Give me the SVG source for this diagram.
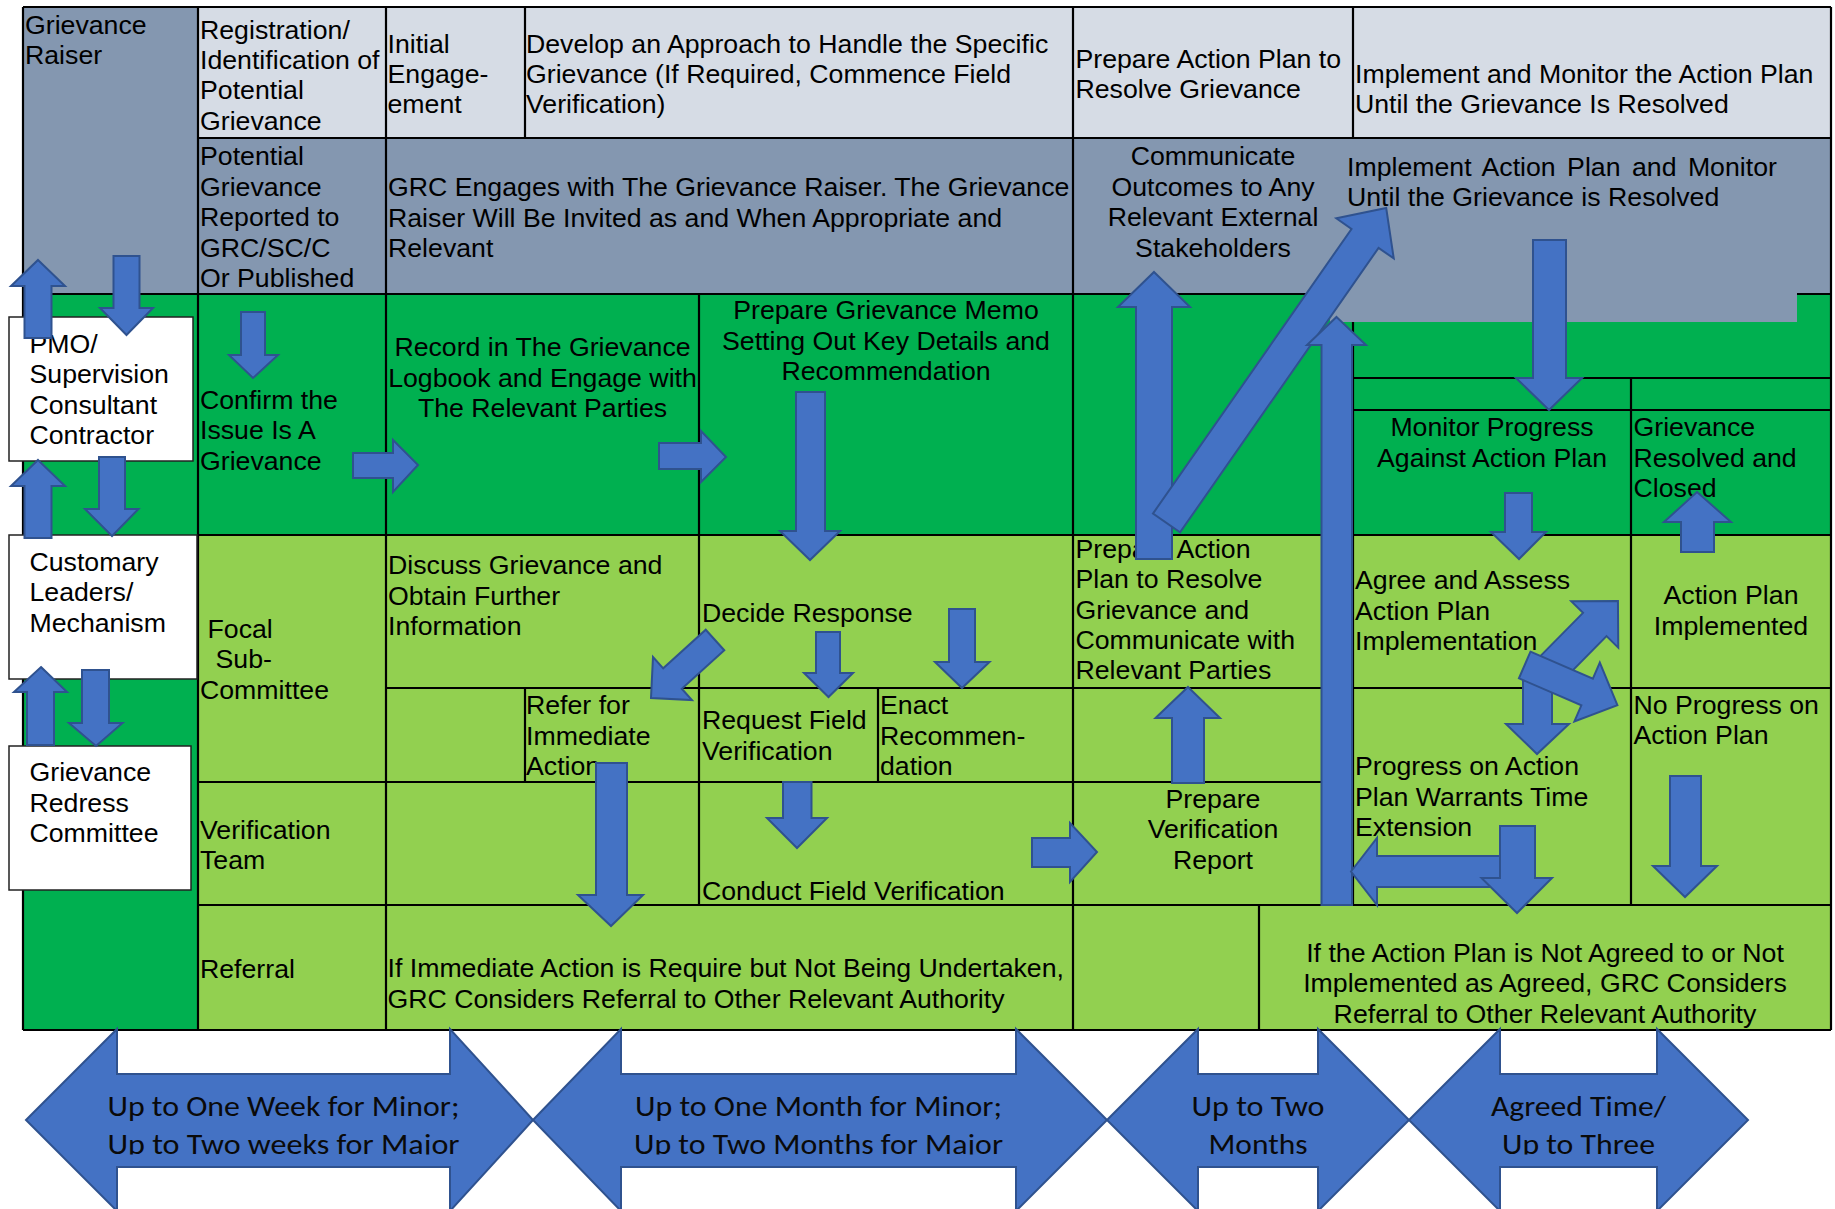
<svg xmlns="http://www.w3.org/2000/svg" width="1835" height="1209" viewBox="0 0 1835 1209">
<style>
  text { font-family: "Liberation Sans", Arial, sans-serif; font-size: 26.7px; fill: #000; transform: translate(0px, 1.2px); }
  .m { text-anchor: middle; }
  .hd { fill: #D6DCE5; }
  .gr { fill: #8497B0; }
  .dg { fill: #00B050; }
  .lg { fill: #92D050; }
  .bx { fill: #fff; stroke: #222; stroke-width: 1.5; }
  .grid { fill: none; stroke: #000; stroke-width: 2.2; }
  .ar { fill: #4472C4; stroke: #2F528F; stroke-width: 2; }
  .tl { font-family: Carlito, Lato, "Liberation Sans", sans-serif; font-size: 28px; text-anchor: middle; fill: #0a0a0a; }
</style>
<defs>
  <clipPath id="cut"><rect x="0" y="0" width="1835" height="1154.5"/></clipPath>
</defs>
<rect width="1835" height="1209" fill="#fff"/>

<!-- left lane -->
<g id="raiser"><rect class="gr" x="23" y="7" width="175" height="287"/>
  <text><tspan x="25" y="33">Grievance</tspan><tspan x="25" y="63">Raiser</tspan></text></g>
<g id="lane"><rect class="dg" x="23" y="294" width="175" height="736"/></g>

<!-- header row -->
<g id="h-registration"><rect class="hd" x="198" y="7" width="188" height="131"/>
  <text><tspan x="200" y="37.5">Registration/</tspan><tspan x="200" y="67.8">Identification of</tspan><tspan x="200" y="98.1">Potential</tspan><tspan x="200" y="128.4">Grievance</tspan></text></g>
<g id="h-initial"><rect class="hd" x="386" y="7" width="139" height="131"/>
  <text><tspan x="387.5" y="51.7">Initial</tspan><tspan x="387.5" y="82">Engage-</tspan><tspan x="387.5" y="112.3">ement</tspan></text></g>
<g id="h-develop"><rect class="hd" x="525" y="7" width="548" height="131"/>
  <text><tspan x="526" y="51.7">Develop an Approach to Handle the Specific</tspan><tspan x="526" y="82">Grievance (If Required, Commence Field</tspan><tspan x="526" y="112.3">Verification)</tspan></text></g>
<g id="h-prepare"><rect class="hd" x="1073" y="7" width="280" height="131"/>
  <text><tspan x="1075.5" y="66.7">Prepare Action Plan to</tspan><tspan x="1075.5" y="97">Resolve Grievance</tspan></text></g>
<g id="h-implement"><rect class="hd" x="1353" y="7" width="478" height="131"/>
  <text><tspan x="1355" y="81.7">Implement and Monitor the Action Plan</tspan><tspan x="1355" y="112">Until the Grievance Is Resolved</tspan></text></g>

<!-- raiser row -->
<g id="g-potential"><rect class="gr" x="198" y="138" width="188" height="156"/>
  <text><tspan x="200" y="164.3">Potential</tspan><tspan x="200" y="194.7">Grievance</tspan><tspan x="200" y="225.1">Reported to</tspan><tspan x="200" y="255.5">GRC/SC/C</tspan><tspan x="200" y="285.9">Or Published</tspan></text></g>
<g id="g-engage"><rect class="gr" x="386" y="138" width="687" height="156"/>
  <text><tspan x="388" y="195">GRC Engages with The Grievance Raiser. The Grievance</tspan><tspan x="388" y="225.4">Raiser Will Be Invited as and When Appropriate and</tspan><tspan x="388" y="255.8">Relevant</tspan></text></g>
<g id="g-communicate"><rect class="gr" x="1073" y="138" width="280" height="156"/>
  <text class="m"><tspan x="1213" y="164.3">Communicate</tspan><tspan x="1213" y="194.7">Outcomes to Any</tspan><tspan x="1213" y="225.1">Relevant External</tspan><tspan x="1213" y="255.5">Stakeholders</tspan></text></g>
<g id="g-implement"><rect class="gr" x="1353" y="138" width="478" height="156"/>
  <text><tspan x="1347" y="175" word-spacing="4">Implement Action Plan and Monitor</tspan><tspan x="1347" y="205">Until the Grievance is Resolved</tspan></text></g>

<!-- PMO / consultant / contractor row -->
<g id="d-confirm"><rect class="dg" x="198" y="294" width="188" height="241"/>
  <text><tspan x="200" y="407.7">Confirm the</tspan><tspan x="200" y="438.1">Issue Is A</tspan><tspan x="200" y="468.5">Grievance</tspan></text></g>
<g id="d-record"><rect class="dg" x="386" y="294" width="313" height="241"/>
  <text class="m"><tspan x="542.5" y="355">Record in The Grievance</tspan><tspan x="542.5" y="385.4">Logbook and Engage with</tspan><tspan x="542.5" y="415.8">The Relevant Parties</tspan></text></g>
<g id="d-memo"><rect class="dg" x="699" y="294" width="374" height="241"/>
  <text class="m"><tspan x="886" y="318.3">Prepare Grievance Memo</tspan><tspan x="886" y="348.7">Setting Out Key Details and</tspan><tspan x="886" y="379.1">Recommendation</tspan></text></g>
<g id="d-plan"><rect class="dg" x="1073" y="294" width="280" height="241"/></g>
<g id="d-upper"><rect class="dg" x="1353" y="294" width="478" height="116"/></g>
<g id="d-monitor"><rect class="dg" x="1353" y="410" width="278" height="125"/>
  <text class="m"><tspan x="1492" y="435">Monitor Progress</tspan><tspan x="1492" y="465.4">Against Action Plan</tspan></text></g>
<g id="d-resolved"><rect class="dg" x="1631" y="410" width="200" height="125"/>
  <text><tspan x="1633.5" y="435">Grievance</tspan><tspan x="1633.5" y="465.4">Resolved and</tspan><tspan x="1633.5" y="495.8">Closed</tspan></text></g>
<rect id="raiser-band" class="gr" x="1330" y="292.5" width="467" height="29.5"/>

<!-- focal sub-committee rows -->
<g id="l-focal"><rect class="lg" x="198" y="535" width="188" height="247"/>
  <text><tspan x="207.5" y="636.7">Focal</tspan><tspan x="215.5" y="667">Sub-</tspan><tspan x="200" y="697.4">Committee</tspan></text></g>
<g id="l-discuss"><rect class="lg" x="386" y="535" width="313" height="153"/>
  <text><tspan x="388" y="573.3">Discuss Grievance and</tspan><tspan x="388" y="603.7">Obtain Further</tspan><tspan x="388" y="634.1">Information</tspan></text></g>
<g id="l-decide"><rect class="lg" x="699" y="535" width="374" height="153"/>
  <text x="702" y="620.7">Decide Response</text></g>
<g id="l-prepare"><rect class="lg" x="1073" y="535" width="280" height="153"/>
  <text><tspan x="1075.5" y="556.7">Prepare Action</tspan><tspan x="1075.5" y="587.1">Plan to Resolve</tspan><tspan x="1075.5" y="617.5">Grievance and</tspan><tspan x="1075.5" y="647.9">Communicate with</tspan><tspan x="1075.5" y="678.3">Relevant Parties</tspan></text></g>
<g id="l-agree"><rect class="lg" x="1353" y="535" width="278" height="153"/>
  <text><tspan x="1355" y="588.3">Agree and Assess</tspan><tspan x="1355" y="618.7">Action Plan</tspan><tspan x="1355" y="649.1">Implementation</tspan></text></g>
<g id="l-implemented"><rect class="lg" x="1631" y="535" width="200" height="153"/>
  <text class="m"><tspan x="1731" y="603.3">Action Plan</tspan><tspan x="1731" y="633.7">Implemented</tspan></text></g>
<g id="l-blank1"><rect class="lg" x="386" y="688" width="139" height="94"/></g>
<g id="l-refer"><rect class="lg" x="525" y="688" width="174" height="94"/>
  <text><tspan x="526" y="713.3">Refer for</tspan><tspan x="526" y="743.7">Immediate</tspan><tspan x="526" y="774.1">Action</tspan></text></g>
<g id="l-request"><rect class="lg" x="699" y="688" width="179" height="94"/>
  <text><tspan x="702" y="728.3">Request Field</tspan><tspan x="702" y="758.7">Verification</tspan></text></g>
<g id="l-enact"><rect class="lg" x="878" y="688" width="195" height="94"/>
  <text><tspan x="880" y="713.3">Enact</tspan><tspan x="880" y="743.7">Recommen-</tspan><tspan x="880" y="774.1">dation</tspan></text></g>
<g id="l-blank2"><rect class="lg" x="1073" y="688" width="280" height="94"/></g>
<g id="l-progress"><rect class="lg" x="1353" y="688" width="278" height="217"/>
  <text><tspan x="1355" y="774">Progress on Action</tspan><tspan x="1355" y="804.4">Plan Warrants Time</tspan><tspan x="1355" y="834.8">Extension</tspan></text></g>
<g id="l-noprogress"><rect class="lg" x="1631" y="688" width="200" height="217"/>
  <text><tspan x="1633.5" y="712.7">No Progress on</tspan><tspan x="1633.5" y="743.1">Action Plan</tspan></text></g>

<!-- verification team row -->
<g id="v-team"><rect class="lg" x="198" y="782" width="188" height="123"/>
  <text><tspan x="200" y="837.7">Verification</tspan><tspan x="200" y="868.1">Team</tspan></text></g>
<g id="v-blank"><rect class="lg" x="386" y="782" width="313" height="123"/></g>
<g id="v-conduct"><rect class="lg" x="699" y="782" width="374" height="123"/>
  <text x="702" y="899.3">Conduct Field Verification</text></g>
<g id="v-report"><rect class="lg" x="1073" y="782" width="280" height="123"/>
  <text class="m"><tspan x="1213" y="806.7">Prepare</tspan><tspan x="1213" y="837.1">Verification</tspan><tspan x="1213" y="867.5">Report</tspan></text></g>

<!-- referral row -->
<g id="r-referral"><rect class="lg" x="198" y="905" width="188" height="125"/>
  <text x="200" y="976.7">Referral</text></g>
<g id="r-immediate"><rect class="lg" x="386" y="905" width="687" height="125"/>
  <text><tspan x="387.5" y="976">If Immediate Action is Require but Not Being Undertaken,</tspan><tspan x="387.5" y="1006.4">GRC Considers Referral to Other Relevant Authority</tspan></text></g>
<g id="r-blank"><rect class="lg" x="1073" y="905" width="186" height="125"/></g>
<g id="r-notagreed"><rect class="lg" x="1259" y="905" width="572" height="125"/>
  <text class="m"><tspan x="1545" y="960.7">If the Action Plan is Not Agreed to or Not</tspan><tspan x="1545" y="991.1">Implemented as Agreed, GRC Considers</tspan><tspan x="1545" y="1021.5">Referral to Other Relevant Authority</tspan></text></g>

<!-- table rules -->
<path class="grid" d="M23 7H1831M198 138H1831M23 294H1330M1797 294H1831M198 535H1831M386 688H1831M198 782H1353M198 905H1831M1353 378H1831M1353 410H1831M23 1030H1831
M23 7V1030M198 7V1030M386 7V1030M525 7V138M525 688V782M699 294V905M878 688V782M1073 7V1030M1259 905V1030M1353 7V138M1353 322V905M1631 378V905M1831 7V1030"/>

<!-- stakeholder boxes -->
<g id="pmo"><rect class="bx" x="9" y="317" width="184" height="144"/>
  <text><tspan x="29.5" y="352">PMO/</tspan><tspan x="29.5" y="382">Supervision</tspan><tspan x="29.5" y="412.5">Consultant</tspan><tspan x="29.5" y="443">Contractor</tspan></text></g>
<g id="customary"><rect class="bx" x="9" y="535" width="188" height="144"/>
  <text><tspan x="29.5" y="570">Customary</tspan><tspan x="29.5" y="600">Leaders/</tspan><tspan x="29.5" y="631">Mechanism</tspan></text></g>
<g id="grc"><rect class="bx" x="9" y="746" width="182" height="144"/>
  <text><tspan x="29.5" y="780">Grievance</tspan><tspan x="29.5" y="810.7">Redress</tspan><tspan x="29.5" y="840.7">Committee</tspan></text></g>

<!-- flow arrows -->
<g id="connectors">
  <polygon class="ar" points="38,260 65,286 51.5,286 51.5,338 24.5,338 24.5,286 11,286"/>
  <polygon class="ar" points="113.5,256 139.5,256 139.5,308 153,308 126.5,335 100,308 113.5,308"/>
  <polygon class="ar" points="38,460 65,486 51.5,486 51.5,538 24.5,538 24.5,486 11,486"/>
  <polygon class="ar" points="99,457 125,457 125,509 138.5,509 112,536 85,509 99,509"/>
  <polygon class="ar" points="41,667 67,692 54,692 54,745 27,745 27,692 14,692"/>
  <polygon class="ar" points="82,670 109,670 109,723 122.5,723 96,746 69,723 82,723"/>

  <polygon class="ar" points="241,312 265,312 265,355 278,355 253,378 229,355 241,355"/>
  <polygon class="ar" points="353,453 393,453 393,440 418,465 393,492 393,478 353,478"/>
  <polygon class="ar" points="659,443 701,443 701,431 726,457 701,482 701,469 659,469"/>
  <polygon class="ar" points="796,392 825,392 825,531 840,531 810,560 780,531 796,531"/>
  <polygon class="ar" points="1154,272 1190,307 1172,307 1172,559 1136,559 1136,307 1118,307"/>
  <polygon class="ar" transform="translate(1166.5 523) rotate(-55.1)" points="0,-16.5 347,-16.5 347,-35 384,0 347,35 347,16.5 0,16.5"/>
  <polygon class="ar" points="1336.5,317 1366,345 1352,345 1352,905 1321.5,905 1321.5,345 1307,345"/>
  <polygon class="ar" points="1533,240 1566,240 1566,378 1582,378 1549,410 1516,378 1533,378"/>
  <polygon class="ar" points="1505,493 1532,493 1532,532 1546,532 1519,559 1491,532 1505,532"/>
  <polygon class="ar" points="1697,492 1731,522 1714,522 1714,552 1681,552 1681,522 1664,522"/>

  <polygon class="ar" points="1523,670 1552,670 1552,724 1569,724 1537,754 1506,724 1523,724"/>
  <polygon class="ar" transform="translate(1540 680) rotate(-45.4)" points="0,-16.5 78,-16.5 78,-33 111,0 78,33 78,16.5 0,16.5"/>
  <polygon class="ar" transform="translate(1524.7 665) rotate(23.4)" points="0,-14.5 68,-14.5 68,-32 101,0 68,32 68,14.5 0,14.5"/>
  <polygon class="ar" points="1670,776 1701,776 1701,866 1717,866 1685,897 1653,866 1670,866"/>
  <polygon class="ar" points="1351,871.5 1377,838 1377,856 1510,856 1510,887 1377,887 1377,905"/>
  <polygon class="ar" points="1500,826 1535,826 1535,878 1552,878 1517,913 1481.5,878 1500,878"/>

  <polygon class="ar" transform="translate(715 640) rotate(137.8)" points="0,-13.8 57.4,-13.8 57.4,-29 86.4,0 57.4,29 57.4,13.8 0,13.8"/>
  <polygon class="ar" points="816,632 840,632 840,673 853,673 828.5,697 804,673 816,673"/>
  <polygon class="ar" points="949,609 975,609 975,662 989.5,662 962,688 935,662 949,662"/>
  <polygon class="ar" points="783,782 811.5,782 811.5,818 827,818 797,848 767,818 783,818"/>
  <polygon class="ar" points="1032,838 1070,838 1070,823 1097,852 1070,882 1070,867 1032,867"/>
  <polygon class="ar" points="1188,687 1220,718 1204,718 1204,783 1172,783 1172,718 1155.5,718"/>
  <polygon class="ar" points="596,763 627,763 627,895 643,895 611,926 578,895 596,895"/>
</g>

<!-- timeframe band -->
<g id="t-week">
  <polygon class="ar" points="26,1120 117,1029 117,1074 450,1074 450,1029 533,1120 450,1211 450,1167 117,1167 117,1211"/>
  <g clip-path="url(#cut)">
    <text class="tl" x="283.5" y="1115" textLength="352" lengthAdjust="spacingAndGlyphs">Up to One Week for Minor;</text>
    <text class="tl" x="283.5" y="1153" textLength="352" lengthAdjust="spacingAndGlyphs">Up to Two weeks for Major</text>
  </g>
</g>
<g id="t-month">
  <polygon class="ar" points="533,1120 621,1029 621,1074 1016,1074 1016,1029 1107,1120 1016,1211 1016,1167 621,1167 621,1211"/>
  <g clip-path="url(#cut)">
    <text class="tl" x="818.5" y="1115" textLength="367" lengthAdjust="spacingAndGlyphs">Up to One Month for Minor;</text>
    <text class="tl" x="818.5" y="1153" textLength="369" lengthAdjust="spacingAndGlyphs">Up to Two Months for Major</text>
  </g>
</g>
<g id="t-two">
  <polygon class="ar" points="1107,1120 1198,1029 1198,1074 1318,1074 1318,1029 1409,1120 1318,1211 1318,1167 1198,1167 1198,1211"/>
  <g clip-path="url(#cut)">
    <text class="tl" x="1258" y="1115" textLength="133" lengthAdjust="spacingAndGlyphs">Up to Two</text>
    <text class="tl" x="1258" y="1153" textLength="99" lengthAdjust="spacingAndGlyphs">Months</text>
  </g>
</g>
<g id="t-agreed">
  <polygon class="ar" points="1409,1120 1500,1029 1500,1074 1657,1074 1657,1029 1748,1120 1657,1211 1657,1167 1500,1167 1500,1211"/>
  <g clip-path="url(#cut)">
    <text class="tl" x="1578.5" y="1115" textLength="175" lengthAdjust="spacingAndGlyphs">Agreed Time/</text>
    <text class="tl" x="1578.5" y="1153" textLength="153" lengthAdjust="spacingAndGlyphs">Up to Three</text>
  </g>
</g>
</svg>
